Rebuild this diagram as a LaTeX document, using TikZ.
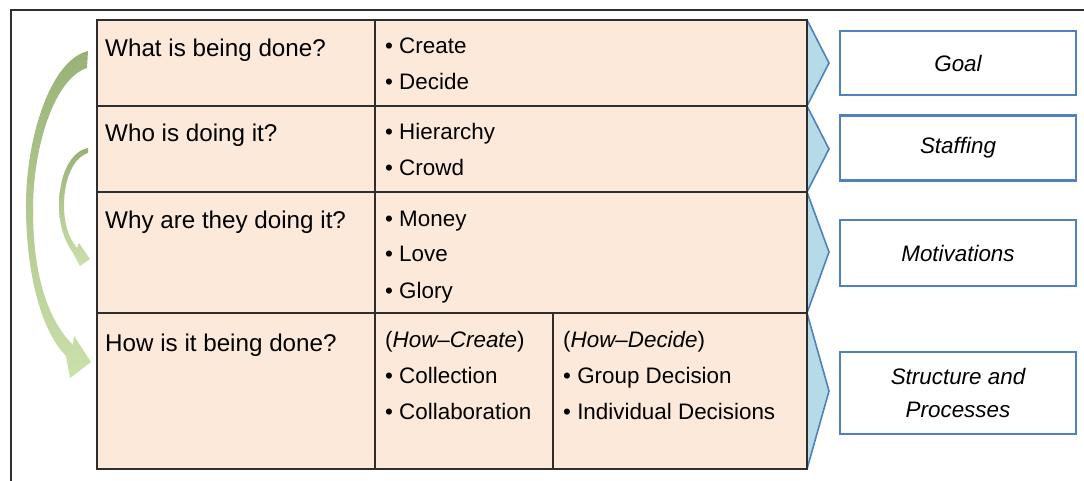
\documentclass[tikz,border=0pt]{standalone}
\usepackage{fontspec}
\setmainfont{Liberation Sans}
\definecolor{peach}{HTML}{FCE9DA}
\definecolor{tblborder}{HTML}{2E2E2E}
\definecolor{chevblue}{HTML}{4F81BD}
\definecolor{chevfill}{HTML}{B5DCE6}
\definecolor{greendark}{HTML}{98B275}
\definecolor{greenlight}{HTML}{CBE0AB}
\begin{document}
\begin{tikzpicture}[x=1pt,y=-1pt,
  grid/.style={draw=tblborder,line width=1.6pt},
  txt/.style={anchor=base west,inner sep=0pt,font=\fontsize{22.4}{36}\selectfont,align=left},
  qtxt/.style={anchor=base west,inner sep=0pt,font=\fontsize{24.2}{36}\selectfont},
  chev/.style={draw=chevblue,line width=1.6pt,fill=chevfill,line join=miter},
  sidebox/.style={draw=chevblue,line width=2.2pt,fill=white,minimum width=236pt,inner sep=0pt,font=\fontsize{22.4}{33}\selectfont\itshape,align=center},
  frame/.style={draw=tblborder,line width=2.6pt}
]
\useasboundingbox (0,0) rectangle (1084,481);
% outer frame
\draw[frame] (11,481) -- (11,10) -- (1084,10);
% table background
\fill[peach] (97,20) rectangle (807,469);
% chevrons
\filldraw[chev] (807,20) -- (829,63) -- (807,106);
\filldraw[chev] (807,106) -- (829,149) -- (807,192);
\filldraw[chev] (807,192) -- (829,252) -- (807,313);
\filldraw[chev] (807,313) -- (829,391) -- (807,469);
% table grid
\draw[grid] (97,20) rectangle (807,469);
\draw[grid] (97,106) -- (807,106);
\draw[grid] (97,192) -- (807,192);
\draw[grid] (97,313) -- (807,313);
\draw[grid] (375,20) -- (375,469);
\draw[grid] (553,313) -- (553,469);
% questions
\node[qtxt] (q1) at (105,57) {What is being done?};
\node[qtxt] (q2) at (105,142) {Who is doing it?};
\node[qtxt] (q3) at (105,229) {Why are they doing it?};
\node[qtxt] (q4) at (105,351) {How is it being done?};
% answers (anchor is the baseline of the last line)
\node[txt] (a1) at (385,90) {\textbullet\ Create\\\textbullet\ Decide};
\node[txt] (a2) at (385,176) {\textbullet\ Hierarchy\\\textbullet\ Crowd};
\node[txt] (a3) at (385,298) {\textbullet\ Money\\\textbullet\ Love\\\textbullet\ Glory};
\node[txt] (a4) at (385,419) {(\textit{How--Create})\\\textbullet\ Collection\\\textbullet\ Collaboration};
\node[txt] (a5) at (563,419) {(\textit{How--Decide})\\\textbullet\ Group Decision\\\textbullet\ Individual Decisions};
% side boxes
\node[sidebox,minimum height=64pt] (goal) at (958,63) {Goal};
\node[sidebox,minimum height=65pt] (staff) at (958,148) {Staffing};
\node[sidebox,minimum height=66pt] (motiv) at (958,253) {Motivations};
\node[sidebox,minimum height=82pt] (struct) at (958,393) {Structure and\\Processes};
% green curved arrows
\shade[top color=greendark,bottom color=greenlight]
  (88,51) .. controls (50,60) and (25,140) .. (26,210)
  .. controls (27,285) and (45,335) .. (66,356)
  -- (70,378) -- (91,362) -- (74,336) -- (73,345)
  .. controls (50,322) and (33,280) .. (33,210)
  .. controls (33,145) and (55,78) .. (87,68) -- cycle;
\shade[top color=greendark,bottom color=greenlight]
  (88,148) .. controls (68,152) and (59,180) .. (59,205)
  .. controls (59,228) and (66,243) .. (73,253)
  -- (80,266) -- (90,259) -- (79,243) -- (77,248)
  .. controls (69,238) and (64,225) .. (64,205)
  .. controls (64,182) and (72,158) .. (88,153) -- cycle;
\end{tikzpicture}
\end{document}
